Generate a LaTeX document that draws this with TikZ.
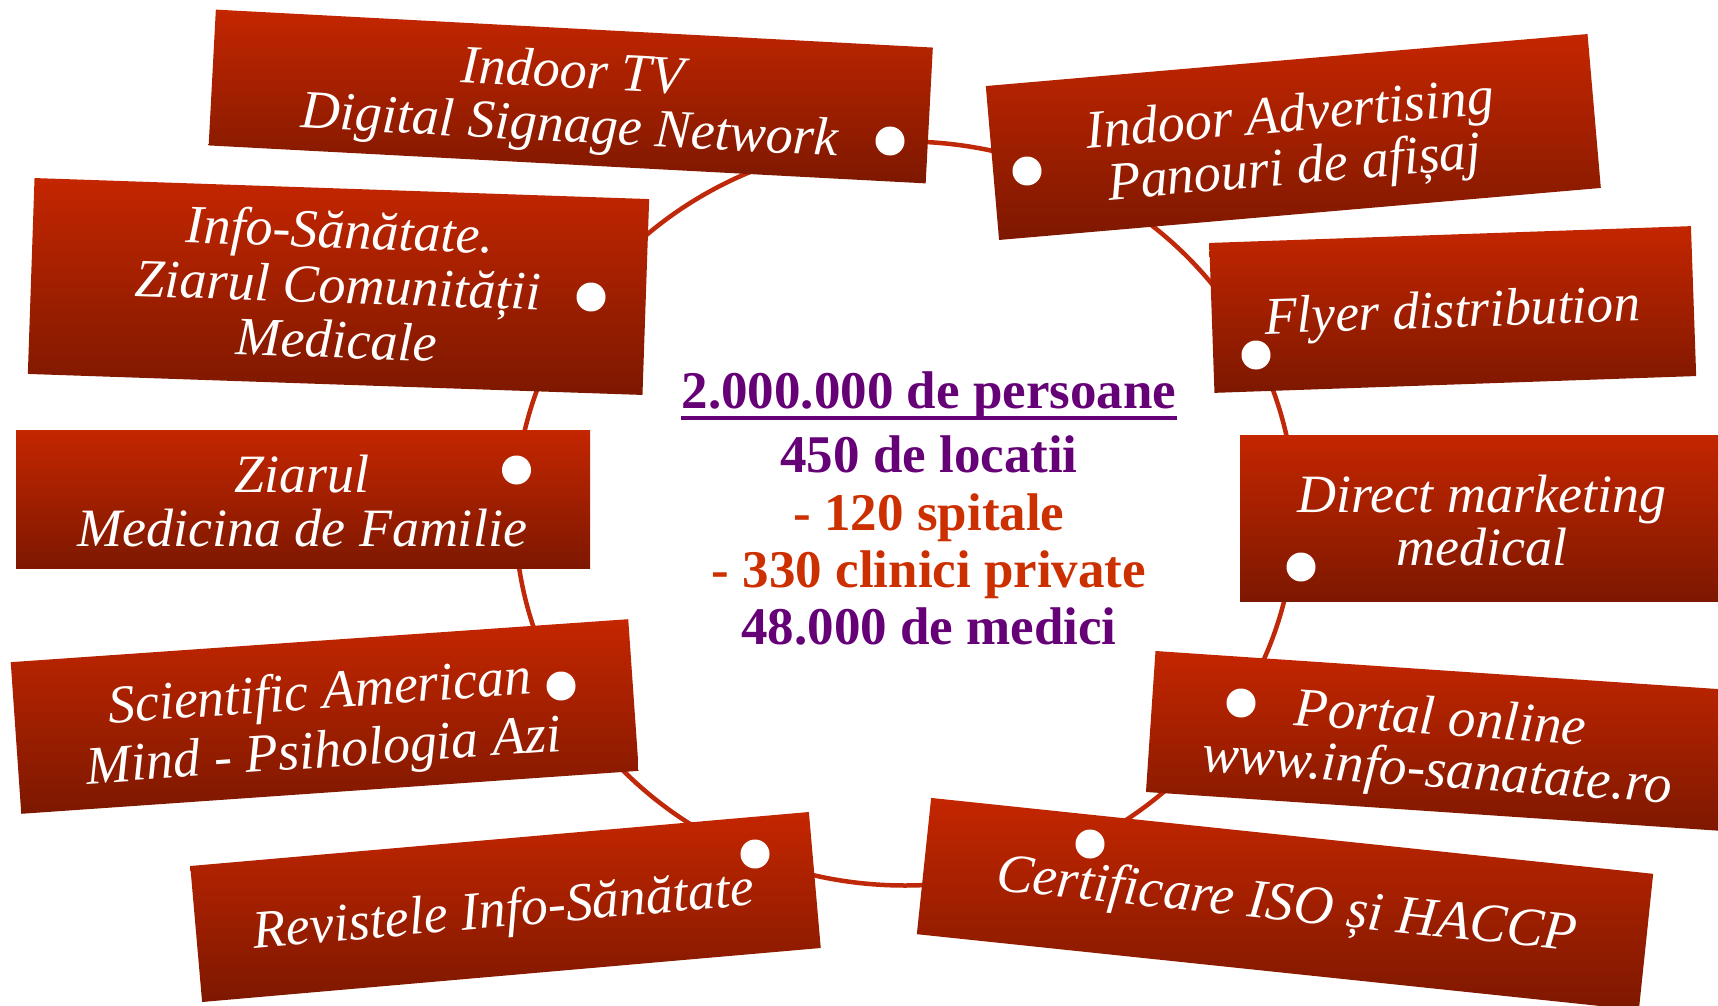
\documentclass[tikz,border=0pt]{standalone}
\usepackage{fontspec}
\setmainfont{Liberation Serif}
\definecolor{boxtop}{RGB}{196,38,0}
\definecolor{boxbot}{RGB}{125,24,0}
\definecolor{ringc}{RGB}{192,40,10}
\definecolor{purp}{RGB}{102,0,119}
\definecolor{redt}{RGB}{204,48,0}
\tikzset{
  tagbox/.style={draw=none, rectangle, inner sep=0pt, top color=boxtop, bottom color=boxbot},
  tagtext/.style={text=white, inner sep=0pt, anchor=base, align=center,
    font=\fontsize{54}{#1}\selectfont\itshape},
  tagtext/.default=54,
  tagdot/.style={circle, fill=white, draw=none, minimum size=29pt, inner sep=0pt},
  ringline/.style={draw=ringc, line width=4.5pt},
  midtext/.style={inner sep=0pt, anchor=base, font=\fontsize{53}{58}\selectfont\bfseries},
}
\begin{document}
\setlength{\lineskiplimit}{-100pt}
\setlength{\lineskip}{0pt}
\begin{tikzpicture}[x=1pt,y=-1pt]
\useasboundingbox (0,0) rectangle (1718,1006);
\clip (0,0) rectangle (1718,1006);
\fill[white] (0,0) rectangle (1718,1006);
% ring
\coordinate (ctr) at (905,513.5);
\draw[ringline] (ctr) ellipse [x radius=390, y radius=372];
% boxes
\node[tagbox, minimum width=718pt, minimum height=136pt, rotate=-3.03] (tv) at (570.75,96.5) {};
\node[tagbox, minimum width=604pt, minimum height=154.5pt, rotate=4.94] (adv) at (1293.3,137) {};
\node[tagbox, minimum width=615pt, minimum height=196pt, rotate=-1.96] (info) at (338.5,286.5) {};
\node[tagbox, minimum width=482pt, minimum height=150pt, rotate=2.0] (fly) at (1452.7,309.5) {};
\node[tagbox, minimum width=574pt, minimum height=138pt] (zmf) at (303,499) {};
\node[tagbox, minimum width=500pt, minimum height=166pt] (dm) at (1490,518) {};
\node[tagbox, minimum width=619pt, minimum height=152pt, rotate=3.98] (sci) at (324.75,716.5) {};
\node[tagbox, minimum width=620pt, minimum height=141.3pt, rotate=-3.87] (por) at (1460,742.4) {};
\node[tagbox, minimum width=621pt, minimum height=136.5pt, rotate=4.99] (rev) at (505.5,907) {};
\node[tagbox, minimum width=726pt, minimum height=137pt, rotate=-6.0] (cert) at (1285,904) {};
% dots
\node[tagdot] (d1) at (890,141) {};
\node[tagdot] (d2) at (1027,171) {};
\node[tagdot] (d3) at (591,297) {};
\node[tagdot] (d4) at (1256,355) {};
\node[tagdot] (d5) at (516.5,470) {};
\node[tagdot] (d6) at (1301,567) {};
\node[tagdot] (d7) at (561,686) {};
\node[tagdot] (d8) at (1241,703) {};
\node[tagdot] (d9) at (755,854) {};
\node[tagdot] (d10) at (1090,844) {};
% box texts (anchored at last-line baseline)
\node[tagtext=54, rotate=-3.03] (t1) at (569,142) {Indoor TV\\Digital Signage Network};
\node[tagtext=53, rotate=4.94] (t2) at (1296,184) {Indoor Advertising\\Panouri de afișaj};
\node[tagtext=55, rotate=-1.96] (t3) at (335.7,358) {Info-Sănătate.\\Ziarul Comunității\\Medicale};
\node[tagtext, rotate=2.0, font=\fontsize{53}{54}\selectfont\itshape] (t4) at (1453,327.5) {Flyer distribution};
\node[tagtext=54] (t5) at (302,546) {Ziarul\\Medicina de Familie};
\node[tagtext=53] (t6) at (1482,565) {Direct marketing\\medical};
\node[tagtext=59, rotate=3.98] (t7) at (325,767.5) {Scientific American\\Mind - Psihologia Azi};
\node[tagtext, rotate=-3.87, font=\fontsize{55}{52}\selectfont\itshape] (t8) at (1436,787) {Portal online\\www.info-sanatate.ro};
\node[tagtext, rotate=4.99] (t9) at (505,926.7) {Revistele Info-Sănătate};
\node[tagtext, rotate=-6.0, font=\fontsize{55}{55}\selectfont\itshape] (t10) at (1285,920.5) {Certificare ISO și HACCP};
% center text
\node[midtext, text=purp] (m1) at (929,408) {2.000.000 de persoane};
\draw[purp, line width=4pt] ([yshift=-10pt]m1.base west) -- ([yshift=-10pt]m1.base east);
\node[midtext, text=purp] (m2) at (929,472) {450 de locatii};
\node[midtext, text=redt] (m3) at (929,530) {- 120 spitale};
\node[midtext, text=redt] (m4) at (929,587) {- 330 clinici private};
\node[midtext, text=purp] (m5) at (929,644) {48.000 de medici};
\end{tikzpicture}
\end{document}
